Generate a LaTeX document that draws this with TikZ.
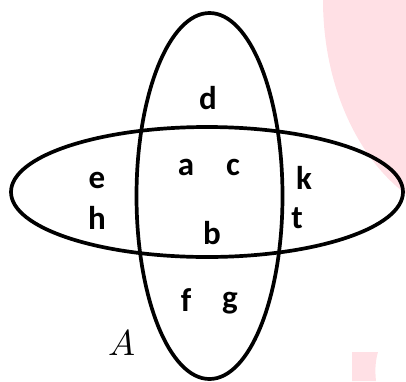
\documentclass[tikz,border=0pt]{standalone}
\usepackage{fontspec}
\setmainfont{Carlito}
\usepackage{unicode-math}
\setmathfont{Latin Modern Math}
\definecolor{softpink}{RGB}{255,224,229}
\tikzset{
  setline/.style={line width=3.7pt, black},
  lbl/.style={font=\bfseries\fontsize{33}{33}\selectfont, inner sep=0pt},
  setname/.style={font=\fontsize{36}{36}\selectfont, inner sep=0pt}
}
\begin{document}
\begin{tikzpicture}[x=1pt,y=-1pt]
\useasboundingbox (0,0) rectangle (406,381);
\begin{scope}
\clip (0,0) rectangle (406,381);
\fill[softpink] (480,0) ellipse [x radius=157, y radius=220];
\fill[softpink] (352,352) -- (378,352) .. controls (375,362) and (375,372) .. (376,381) -- (352,381) -- cycle;
\end{scope}
\draw[setline] (209.5,196) ellipse [x radius=73, y radius=183];
\draw[setline] (207,192) ellipse [x radius=196, y radius=65];
\node[lbl] (d) at (208,98) {d};
\node[lbl] (a) at (186,167) {a};
\node[lbl] (c) at (233,167) {c};
\node[lbl] (e) at (97,180) {e};
\node[lbl] (k) at (304,178) {k};
\node[lbl] (h) at (97,218) {h};
\node[lbl] (t) at (297,218) {t};
\node[lbl] (b) at (212,233) {b};
\node[lbl] (f) at (186,300) {f};
\node[lbl] (g) at (230,303) {g};
\node[setname] (A) at (122,343) {$A$};
\end{tikzpicture}
\end{document}
